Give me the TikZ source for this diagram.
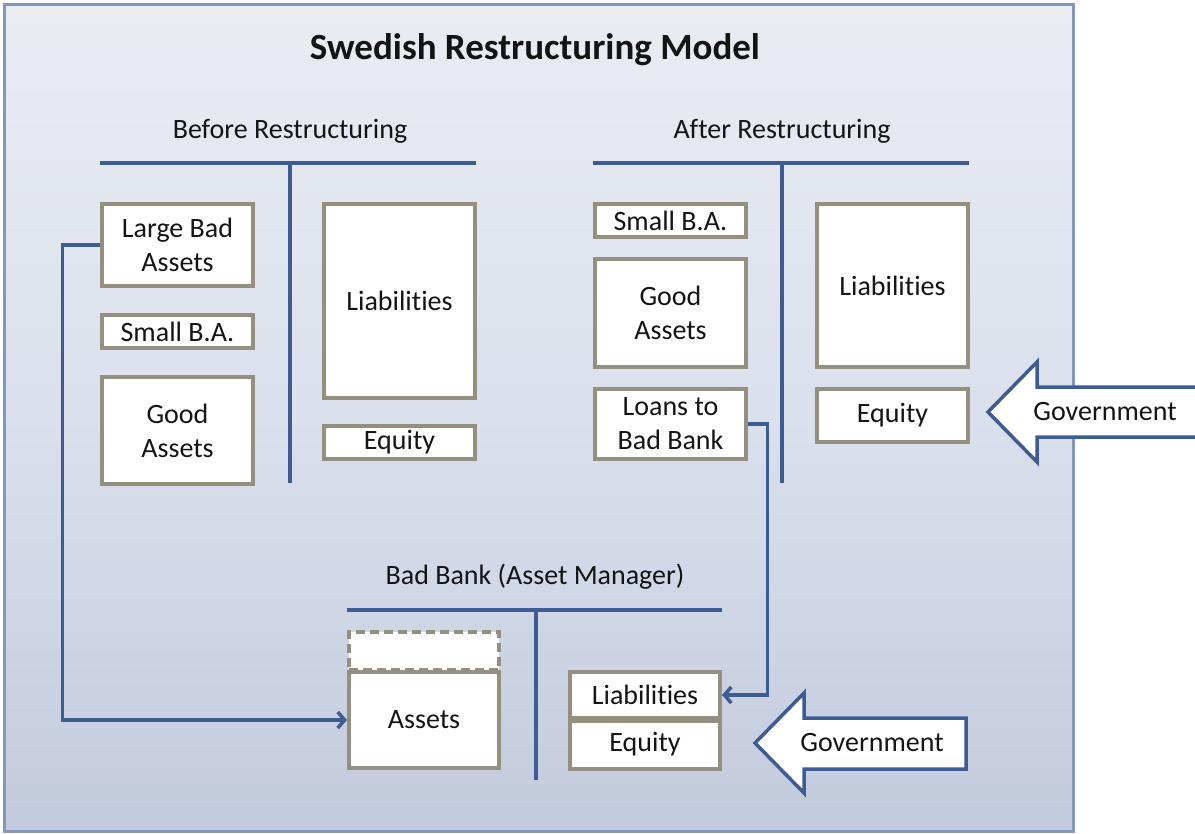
\documentclass[tikz,border=0pt]{standalone}
\usepackage{fontspec}
\setmainfont{Carlito}[RawFeature={-liga;-clig;-dlig}]
\usetikzlibrary{arrows.meta,shadings}
\definecolor{rule}{HTML}{3D5C91}
\definecolor{boxline}{HTML}{958F80}
\definecolor{frameline}{HTML}{8496B9}
\definecolor{ink}{HTML}{141414}
\definecolor{paneltop}{HTML}{EAECF2}
\definecolor{panelmid}{HTML}{DAE0EC}
\definecolor{panelbot}{HTML}{C2CADD}
\begin{document}
\begin{tikzpicture}[x=1bp,y=-1bp,
  txt/.style={font=\fontsize{28bp}{34bp}\selectfont, text=ink, align=center, inner sep=0pt},
  box/.style={txt, draw=boxline, line width=4bp, fill=white, minimum width=151bp},
  tline/.style={draw=rule, line width=4bp},
  conn/.style={draw=rule, line width=3.5bp, -{Straight Barb[length=7bp,width=16bp]}},
  govarrow/.style={draw=rule, line width=3.5bp, fill=white, line join=miter}
]
\useasboundingbox (0,0) rectangle (1195,834);

% panel
\path[draw=frameline, line width=3.5bp, top color=paneltop, bottom color=panelbot, middle color=panelmid]
  (4.5,4.5) rectangle (1073.5,831.5);

% title and section headings
\node[txt, font=\fontsize{37bp}{40bp}\selectfont\bfseries] (title) at (535,50) {Swedish Restructuring Model};
\node[txt] (hbefore) at (290,131) {Before Restructuring};
\node[txt] (hafter) at (782,131) {After Restructuring};
\node[txt] (hbad) at (535,577) {Bad Bank (Asset Manager)};

% T-account rules
\draw[tline] (100,163) -- (476,163) (290,163) -- (290,483);
\draw[tline] (593,163) -- (969,163) (782,163) -- (782,483);
\draw[tline] (347,610) -- (722,610) (536,610) -- (536,780);

% before restructuring
\node[box, minimum height=82bp] (lba) at (177.5,245) {Large Bad\\Assets};
\node[box, minimum height=33bp] (sba1) at (177.5,331.5) {Small B.A.};
\node[box, minimum height=107bp] (ga1) at (177.5,430.5) {Good\\Assets};
\node[box, minimum height=194bp] (lia1) at (399.5,301) {Liabilities};
\node[box, minimum height=33bp] (eq1) at (399.5,442.5) {Equity};

% after restructuring
\node[box, minimum height=33bp] (sba2) at (670.5,220.5) {Small B.A.};
\node[box, minimum height=108bp] (ga2) at (670.5,313) {Good\\Assets};
\node[box, minimum height=70bp] (loans) at (670.5,424) {Loans to\\Bad Bank};
\node[box, minimum height=163bp] (lia2) at (892.5,285.5) {Liabilities};
\node[box, minimum height=53bp] (eq2) at (892.5,415.5) {Equity};

% bad bank
\node[box, minimum width=150bp, minimum height=38bp, dash pattern=on 9bp off 5bp] (gap) at (424,651) {};
\node[box, minimum width=150bp, minimum height=96bp] (assets) at (424,720) {Assets};
\node[box, minimum width=150bp, minimum height=46bp] (bbl) at (645,695) {Liabilities};
\node[box, minimum width=150bp, minimum height=48bp] (bbe) at (645,744.5) {Equity};

% transfers
\draw[conn] (lba.west) -- ++(-37.5,0) |- (assets.west);
\draw[conn] (loans.east) -- ++(19.5,0) |- (bbl.east);

% government injections
\draw[govarrow] (988,412) -- (1037,362) -- (1037,387) -- (1199,387) -- (1199,437)
  -- (1037,437) -- (1037,462) -- cycle;
\node[txt] (govA) at (1105,412) {Government};
\draw[govarrow] (755,743) -- (804,693) -- (804,718) -- (966,718) -- (966,769)
  -- (804,769) -- (804,793) -- cycle;
\node[txt] (govB) at (872,743) {Government};
\end{tikzpicture}
\end{document}
